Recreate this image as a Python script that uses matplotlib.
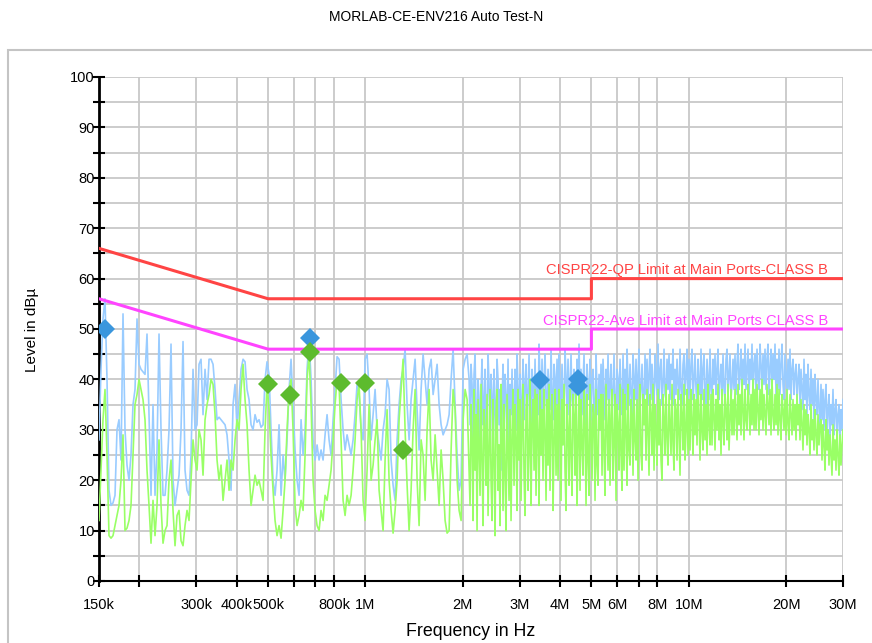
import numpy as np
import matplotlib
matplotlib.use("Agg")
import matplotlib.pyplot as plt
from matplotlib.ticker import FixedLocator, NullLocator, MultipleLocator
from matplotlib.patches import Rectangle

plt.rcParams['font.family'] = ['Liberation Sans', 'DejaVu Sans']

TITLE = "MORLAB-CE-ENV216 Auto Test-N"

# ---- measured spectrum (peak = blue, average = green) ----
# low band sweep 150 kHz .. 2.09 MHz
peak_lo = [28,42,52,56,40,18,15,15.5,17,30,32,24,53,30,23,20,25,35,38,52,
           43,42,41.5,41,49,33,17,35,17,26,49,30,17,17,22,30,47,20,15,18,
           21,30,47.5,22,18,17,25,42,30,31,43,44,33,42,36,44,44,43,38,32,
           32.5,32,31.5,31,29,24,18,35,39,30,36,42,44,43.5,38,36,31,30,33,31.5,
           32,30.5,31,40,43.5,41,30,20,17,22,31,17,25,20,28,38,44,35,26,20,
           17,32,25,30,42,48,40,28,24,27,24,26,24,29,33,28,25,32,38,44.5,
           44,36,30,26,29,27,25,28,33,39,37,30,28,44,45,38,28,33,38,30,
           27,24,30,33,40,38,24,19,16,28,35,40,42,46,35,28,36,40,44,34,
           26,38,45,40,35,42,44,37,40,43,35,31,29,30,31,33,40,46,35,25,
           18,20,42,44,45,40]
avg_lo = [12,22,32,38,25,9,8.5,9,11,13,15,20,29,10,10.5,12,15,25,35,37,
          40,38,36,32,22,15,7.5,16,9,15,28,15,7.5,10,11,20,24,14,7,13,
          14,8,7,11,14,12,20,28,24,22,30,28,21,32,35,37,40,39,33,24,
          20,23,16,20,24,18,24,22,28,32,30,38,43,36,31,22,15,18,21,19,
          20,18,16,30,39,34,25,18,12,9,11,8.5,14,20,30,38,40,30,15,11,
          13,16,14,25,40,45,35,20,14,11,10,14,12,17,16,19,22,28,35,40,
          39,28,16,13,17,15,17,22,28,36,39,30,16,12,22,35,20,23,28,32,
          18,14,10,24,34,20,14,9.5,14,20,32,38,44,30,19,10,18,30,38,20,
          11,28,25,16,30,38,24,20,29,22,15,26,20,12,9.5,10,26,38,34,20,
          14,12,32,38,36,22]
# high band sweep 2.1 MHz .. 30 MHz
peak_hi = [31,43,39,27,41,45,33,29,40,36,24,38,44,31,35,42,26,33,45,39,28,41,
           37,23,42,34,29,44,40,31,38,22,35,43,27,41,36,30,44,25,39,33,42,29,
           34,42,30,45,38,33,41,29,36,44,32,39,43,31,37,45,34,30,42,38,33,44,
           35,41,33,47,39,34,44,32,40,45,36,33,42,38,34,46,37,32,43,40,35,44,
           33,45,38,34,43,36,32,46,40,35,44,33,39,45,36,34,42,38,33,44,37,47,
           35,42,33,39,45,34,31,43,38,36,44,32,40,42,34,30,45,37,33,41,35,43,
           33,44,38,32,42,36,45,34,39,43,33,37,45,35,32,42,40,34,44,36,33,45,
           36,42,34,46,39,35,43,37,33,45,40,36,44,34,41,46,35,38,43,36,34,45,
           37,44,35,41,46,36,43,38,35,45,40,37,47,36,42,44,35,39,46,37,36,44,
           38,45,36,43,40,46,35,42,37,44,39,36,46,38,35,43,45,37,41,46,36,44,
           37,43,46,36,40,45,38,35,44,39,37,46,36,42,45,37,35,44,40,36,46,38,
           36,44,39,45,37,42,46,36,40,43,37,45,38,36,44,46,37,41,45,36,39,44,
           38,45,37,43,47,38,41,46,37,44,39,47,38,42,46,37,44,40,47,38,43,45,
           37,46,40,38,47,43,37,45,39,46,38,44,47,37,42,46,38,45,40,47,37,44,
           38,46,37,43,47,39,36,45,41,37,44,38,46,36,42,44,37,41,43,36,40,43,
           35,42,38,34,44,36,41,33,43,37,34,42,35,40,32,41,36,33,40,34,31,39,
           32,38,30,36,39,29,34,37,28,35,31,38,29,34,36,28,33,35,27,34,30,36]
avg_hi = [15,35,28,12,38,22,33,10,36,27,17,39,24,11,34,30,19,37,13,26,38,20,
          12,36,25,9,33,38,18,27,11,39,30,14,35,21,10,37,26,16,34,12,29,38,
          19,35,28,14,38,24,36,16,30,39,21,13,34,37,18,26,40,15,31,36,22,38,
          17,37,29,15,39,25,34,20,38,30,16,36,23,39,18,33,37,14,28,38,21,35,
          20,38,31,16,36,27,39,22,14,35,30,19,38,25,17,37,33,21,39,15,28,38,
          18,36,27,21,38,31,15,37,24,17,39,29,20,35,33,16,38,23,19,36,30,37,
          21,37,26,17,39,30,22,36,19,33,38,20,28,37,16,35,31,22,39,25,18,38,
          22,37,30,19,39,26,23,36,33,21,38,28,24,36,20,34,39,25,22,37,31,36,
          24,38,29,21,37,33,25,39,22,35,30,23,38,27,36,24,20,37,32,25,39,28,
          23,37,31,25,39,27,22,36,34,24,38,29,21,37,33,26,39,24,30,38,25,36,
          26,38,32,25,37,29,36,27,39,33,24,37,30,26,38,28,35,25,39,31,27,37,
          27,38,33,26,36,30,39,28,35,25,38,31,27,37,34,28,39,26,32,38,29,36,
          29,38,33,28,39,31,37,29,40,34,28,38,32,30,39,35,29,37,31,40,30,38,
          30,39,34,29,38,32,40,30,37,33,29,39,35,31,38,29,40,33,30,37,31,39,
          29,38,32,28,37,34,30,36,29,38,31,28,37,33,29,36,30,35,28,37,31,35,
          28,36,31,26,35,29,34,27,33,30,25,35,28,32,26,34,29,25,33,27,31,32,
          24,31,27,22,32,26,30,23,29,25,21,31,24,28,22,30,25,21,29,23,27,30]

# ---- final measurement points ----
qp_freq = [157e3, 675e3, 3.47e6, 4.55e6, 4.55e6]
qp_level = [50.0, 48.2, 39.9, 40.0, 38.6]
av_freq = [500e3, 584e3, 675e3, 841e3, 1.0e6, 1.307e6]
av_level = [39.1, 36.9, 45.4, 39.3, 39.3, 26.0]

# ---- limit lines ----
qp_lim_freq = [150e3, 500e3, 5e6, 5e6, 30e6]
qp_lim_level = [66, 56, 56, 60, 60]
av_lim_freq = [150e3, 500e3, 5e6, 5e6, 30e6]
av_lim_level = [56, 46, 46, 50, 50]
qp_lim_label = "CISPR22-QP Limit at Main Ports-CLASS B"
av_lim_label = "CISPR22-Ave Limit at Main Ports CLASS B"

xtick_vals = [150e3, 200e3, 300e3, 400e3, 500e3, 600e3, 700e3, 800e3, 1e6,
              2e6, 3e6, 4e6, 5e6, 6e6, 7e6, 8e6, 10e6, 20e6, 30e6]
xtick_labels = ['150k', '', '300k', '400k', '500k', '', '', '800k', '1M',
                '2M', '3M', '4M', '5M', '6M', '', '8M', '10M', '20M', '30M']

f_lo = np.geomspace(150e3, 2.093e6, len(peak_lo))
f_hi = np.geomspace(2.107e6, 30e6, len(peak_hi))
freq = np.concatenate([f_lo, f_hi])
peak = np.concatenate([peak_lo, peak_hi])
avg = np.concatenate([avg_lo, avg_hi])

fig = plt.figure(figsize=(8.72, 6.43), dpi=100)
ax = fig.add_axes([99/872, 1-581/643, (843-99)/872, (581-77)/643])

fig.patches.append(Rectangle((8/872, -0.05), 1.0, 0.05 + (1-50/643),
                             transform=fig.transFigure, fill=False,
                             edgecolor='#c4c4c4', linewidth=1.5))
fig.text(436/872, 1-17/643, TITLE, ha='center', va='center', fontsize=10)

ax.plot(freq, peak, color='#99ccff', lw=1.2, zorder=3)
ax.plot(freq, avg, color='#99ff66', lw=1.2, zorder=4)
ax.plot(qp_lim_freq, qp_lim_level, color='#ff4444', lw=2.2, zorder=5)
ax.plot(av_lim_freq, av_lim_level, color='#ff44ff', lw=2.2, zorder=5)
ax.plot(qp_freq, qp_level, 'D', color='#3a96dd', ms=10.5, mew=0, zorder=6)
ax.plot(av_freq, av_level, 'D', color='#5dbb2e', ms=10.5, mew=0, zorder=6)

ax.text(27e6, 61.7, qp_lim_label, color='#ff4444', ha='right', va='center', fontsize=10.6)
ax.text(27e6, 51.6, av_lim_label, color='#ff44ff', ha='right', va='center', fontsize=10.6)

ax.set_xscale('log')
ax.set_xlim(150e3, 30e6)
ax.set_ylim(0, 100)
ax.xaxis.set_major_locator(FixedLocator(xtick_vals))
ax.xaxis.set_minor_locator(NullLocator())
ax.set_xticklabels(xtick_labels)
ax.yaxis.set_major_locator(MultipleLocator(10))
ax.yaxis.set_minor_locator(MultipleLocator(5))

ax.grid(True, which='both', color='#c8c8c8', lw=1.3, zorder=0)
ax.set_axisbelow(True)
for s in ['top', 'right']:
    ax.spines[s].set_visible(False)
ax.spines['left'].set_linewidth(2)
ax.spines['bottom'].set_linewidth(1.5)
ax.tick_params(axis='y', which='both', direction='inout', length=8, width=1.5,
               pad=-1, labelsize=10.5)
ax.tick_params(axis='x', which='both', direction='inout', length=8, width=1.5,
               pad=8, labelsize=10.5)

fig.text(32/872, 1-330/643, "Level in dBµ", rotation=90, ha='center', va='center', fontsize=11)
fig.text(471/872, 1-631/643, "Frequency in Hz", ha='center', va='center', fontsize=12.8)

fig.savefig("out.png", dpi=100)
